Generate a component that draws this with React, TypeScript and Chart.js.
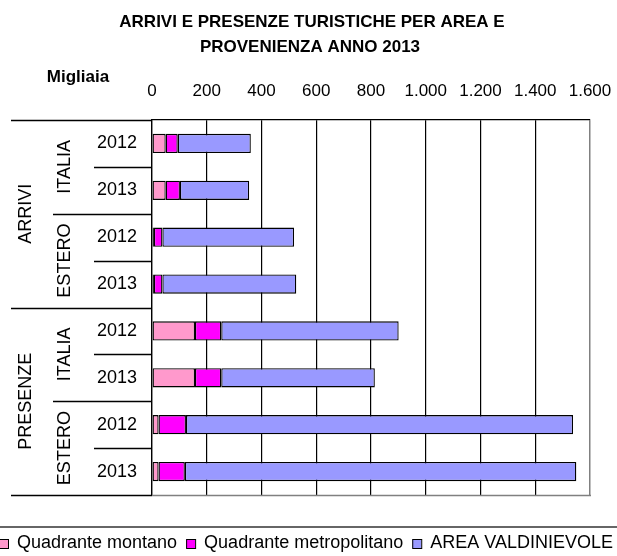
import React, { useEffect, useRef } from 'react';
import { Chart, registerables } from 'chart.js';

Chart.register(...registerables);

const FONT = '"Liberation Sans", Arial, sans-serif';

const titleLines = ['ARRIVI E PRESENZE TURISTICHE PER AREA E', 'PROVENIENZA ANNO 2013'];
const unitLabel = 'Migliaia';
const years = ['2012', '2013', '2012', '2013', '2012', '2013', '2012', '2013'];
const origins = ['ITALIA', 'ESTERO', 'ITALIA', 'ESTERO'];
const measures = ['ARRIVI', 'PRESENZE'];
const seriesNames = ['Quadrante montano', 'Quadrante metropolitano', 'AREA VALDINIEVOLE'];
const seriesColors = ['#FF99CC', '#FF00FF', '#9999FF'];
const montano = [50, 50, 7, 7, 157, 157, 24, 24];
const metropolitano = [44, 52, 31, 31, 96, 96, 100, 96];
const valdinievole = [267, 253, 481, 489, 648, 561, 1414, 1430];
const xMax = 1600;
const xStep = 200;

const fmt = (v: number) => String(v).replace(/\B(?=(\d{3})+(?!\d))/g, '.');

const decorPlugin = {
  id: 'decor',
  afterDraw(chart: any) {
    const ctx = chart.ctx as CanvasRenderingContext2D;
    const ys = chart.scales.y;
    const area = chart.chartArea;
    const n = years.length;
    const bound = (i: number) =>
      i === 0 ? area.top : i === n ? area.bottom : (ys.getPixelForValue(i - 1) + ys.getPixelForValue(i)) / 2;
    ctx.save();
    // plot area bottom border (gray)
    ctx.strokeStyle = '#808080';
    ctx.lineWidth = 1.5;
    ctx.beginPath();
    ctx.moveTo(area.left, area.bottom + 0.5);
    ctx.lineTo(area.right + 1, area.bottom + 0.5);
    ctx.stroke();
    // separators in label area
    ctx.strokeStyle = '#000';
    ctx.lineWidth = 1.3;
    const line = (x1: number, yy: number) => {
      const y = Math.round(yy) + 0.5;
      ctx.beginPath();
      ctx.moveTo(x1, y);
      ctx.lineTo(area.left, y);
      ctx.stroke();
    };
    [0, 4, 8].forEach((i) => line(11, bound(i)));
    [2, 6].forEach((i) => line(53, bound(i)));
    [1, 3, 5, 7].forEach((i) => line(94, bound(i)));
    // group labels
    ctx.fillStyle = '#000';
    ctx.font = `18px ${FONT}`;
    ctx.textAlign = 'center';
    ctx.textBaseline = 'middle';
    const rot = (text: string, x: number, y: number) => {
      ctx.save();
      ctx.translate(x, y);
      ctx.rotate(-Math.PI / 2);
      ctx.fillText(text, 0, 0);
      ctx.restore();
    };
    origins.forEach((o, k) => rot(o, 65, (bound(2 * k) + bound(2 * k + 2)) / 2));
    measures.forEach((m, k) => rot(m, 26, (bound(4 * k) + bound(4 * k + 4)) / 2));
    // title
    ctx.font = `bold 17px ${FONT}`;
    ctx.fillText(titleLines[0], 312, 22);
    ctx.fillText(titleLines[1], 310, 47);
    // unit label
    ctx.fillText(unitLabel, 78, 77);
    // legend
    const lw = chart.width;
    ctx.strokeStyle = '#333';
    ctx.lineWidth = 1.5;
    ctx.beginPath();
    ctx.moveTo(0, 527);
    ctx.lineTo(lw, 527);
    ctx.stroke();
    ctx.font = `18px ${FONT}`;
    ctx.textAlign = 'left';
    let x = -1;
    const ly = 543.5;
    seriesNames.forEach((s, i) => {
      ctx.fillStyle = seriesColors[i];
      ctx.fillRect(x, ly - 4.5, 9, 9);
      ctx.strokeStyle = '#000';
      ctx.lineWidth = 1;
      ctx.strokeRect(x + 0.5, ly - 4.5 + 0.5, 9, 9);
      ctx.fillStyle = '#000';
      ctx.fillText(s, x + 18, ly);
      x += 18 + ctx.measureText(s).width + 9;
    });
    ctx.restore();
  },
};

export default function App() {
  const ref = useRef<HTMLCanvasElement | null>(null);
  useEffect(() => {
    if (!ref.current) return;
    const data = [montano, metropolitano, valdinievole];
    const chart = new Chart(ref.current, {
      type: 'bar',
      data: {
        labels: years,
        datasets: seriesNames.map((name, i) => ({
          label: name,
          data: data[i],
          backgroundColor: seriesColors[i],
          borderColor: '#000',
          borderWidth: 1.3,
          borderSkipped: false,
          categoryPercentage: 1,
          barPercentage: 0.41,
        })),
      },
      options: {
        indexAxis: 'y',
        responsive: false,
        animation: false,
        layout: { padding: { top: 60, left: 0, right: 27, bottom: 61 } },
        plugins: {
          legend: { display: false },
          title: { display: false },
          tooltip: { enabled: false },
        },
        scales: {
          x: {
            position: 'top',
            stacked: true,
            min: 0,
            max: xMax,
            afterFit: (s: any) => {
              s.height = 60;
              s.paddingLeft = 0;
              s.paddingRight = 0;
            },
            ticks: {
              stepSize: xStep,
              padding: 18,
              color: '#000',
              font: { family: FONT, size: 17 },
              callback: (v: any) => fmt(Number(v)),
            },
            grid: {
              drawTicks: false,
              color: (c: any) => (c.tick && c.tick.value === xMax ? '#808080' : '#000'),
              lineWidth: (c: any) => (c.tick && c.tick.value === xMax ? 1.5 : 1.2),
            },
            border: { display: true, color: '#000', width: 1.3 },
          },
          y: {
            stacked: true,
            afterFit: (s: any) => {
              s.width = 152;
            },
            ticks: {
              padding: 15,
              color: '#000',
              font: { family: FONT, size: 18 },
            },
            grid: { display: false, drawTicks: false },
            border: { display: true, color: '#000', width: 1.3 },
          },
        },
      },
      plugins: [decorPlugin],
    });
    return () => chart.destroy();
  }, []);
  return (
    <div style={{ position: 'absolute', left: 0, top: 0, width: 617, height: 556, overflow: 'hidden', background: '#fff' }}>
      <canvas ref={ref} width={617} height={556} style={{ width: 617, height: 556, display: 'block' }} />
    </div>
  );
}
